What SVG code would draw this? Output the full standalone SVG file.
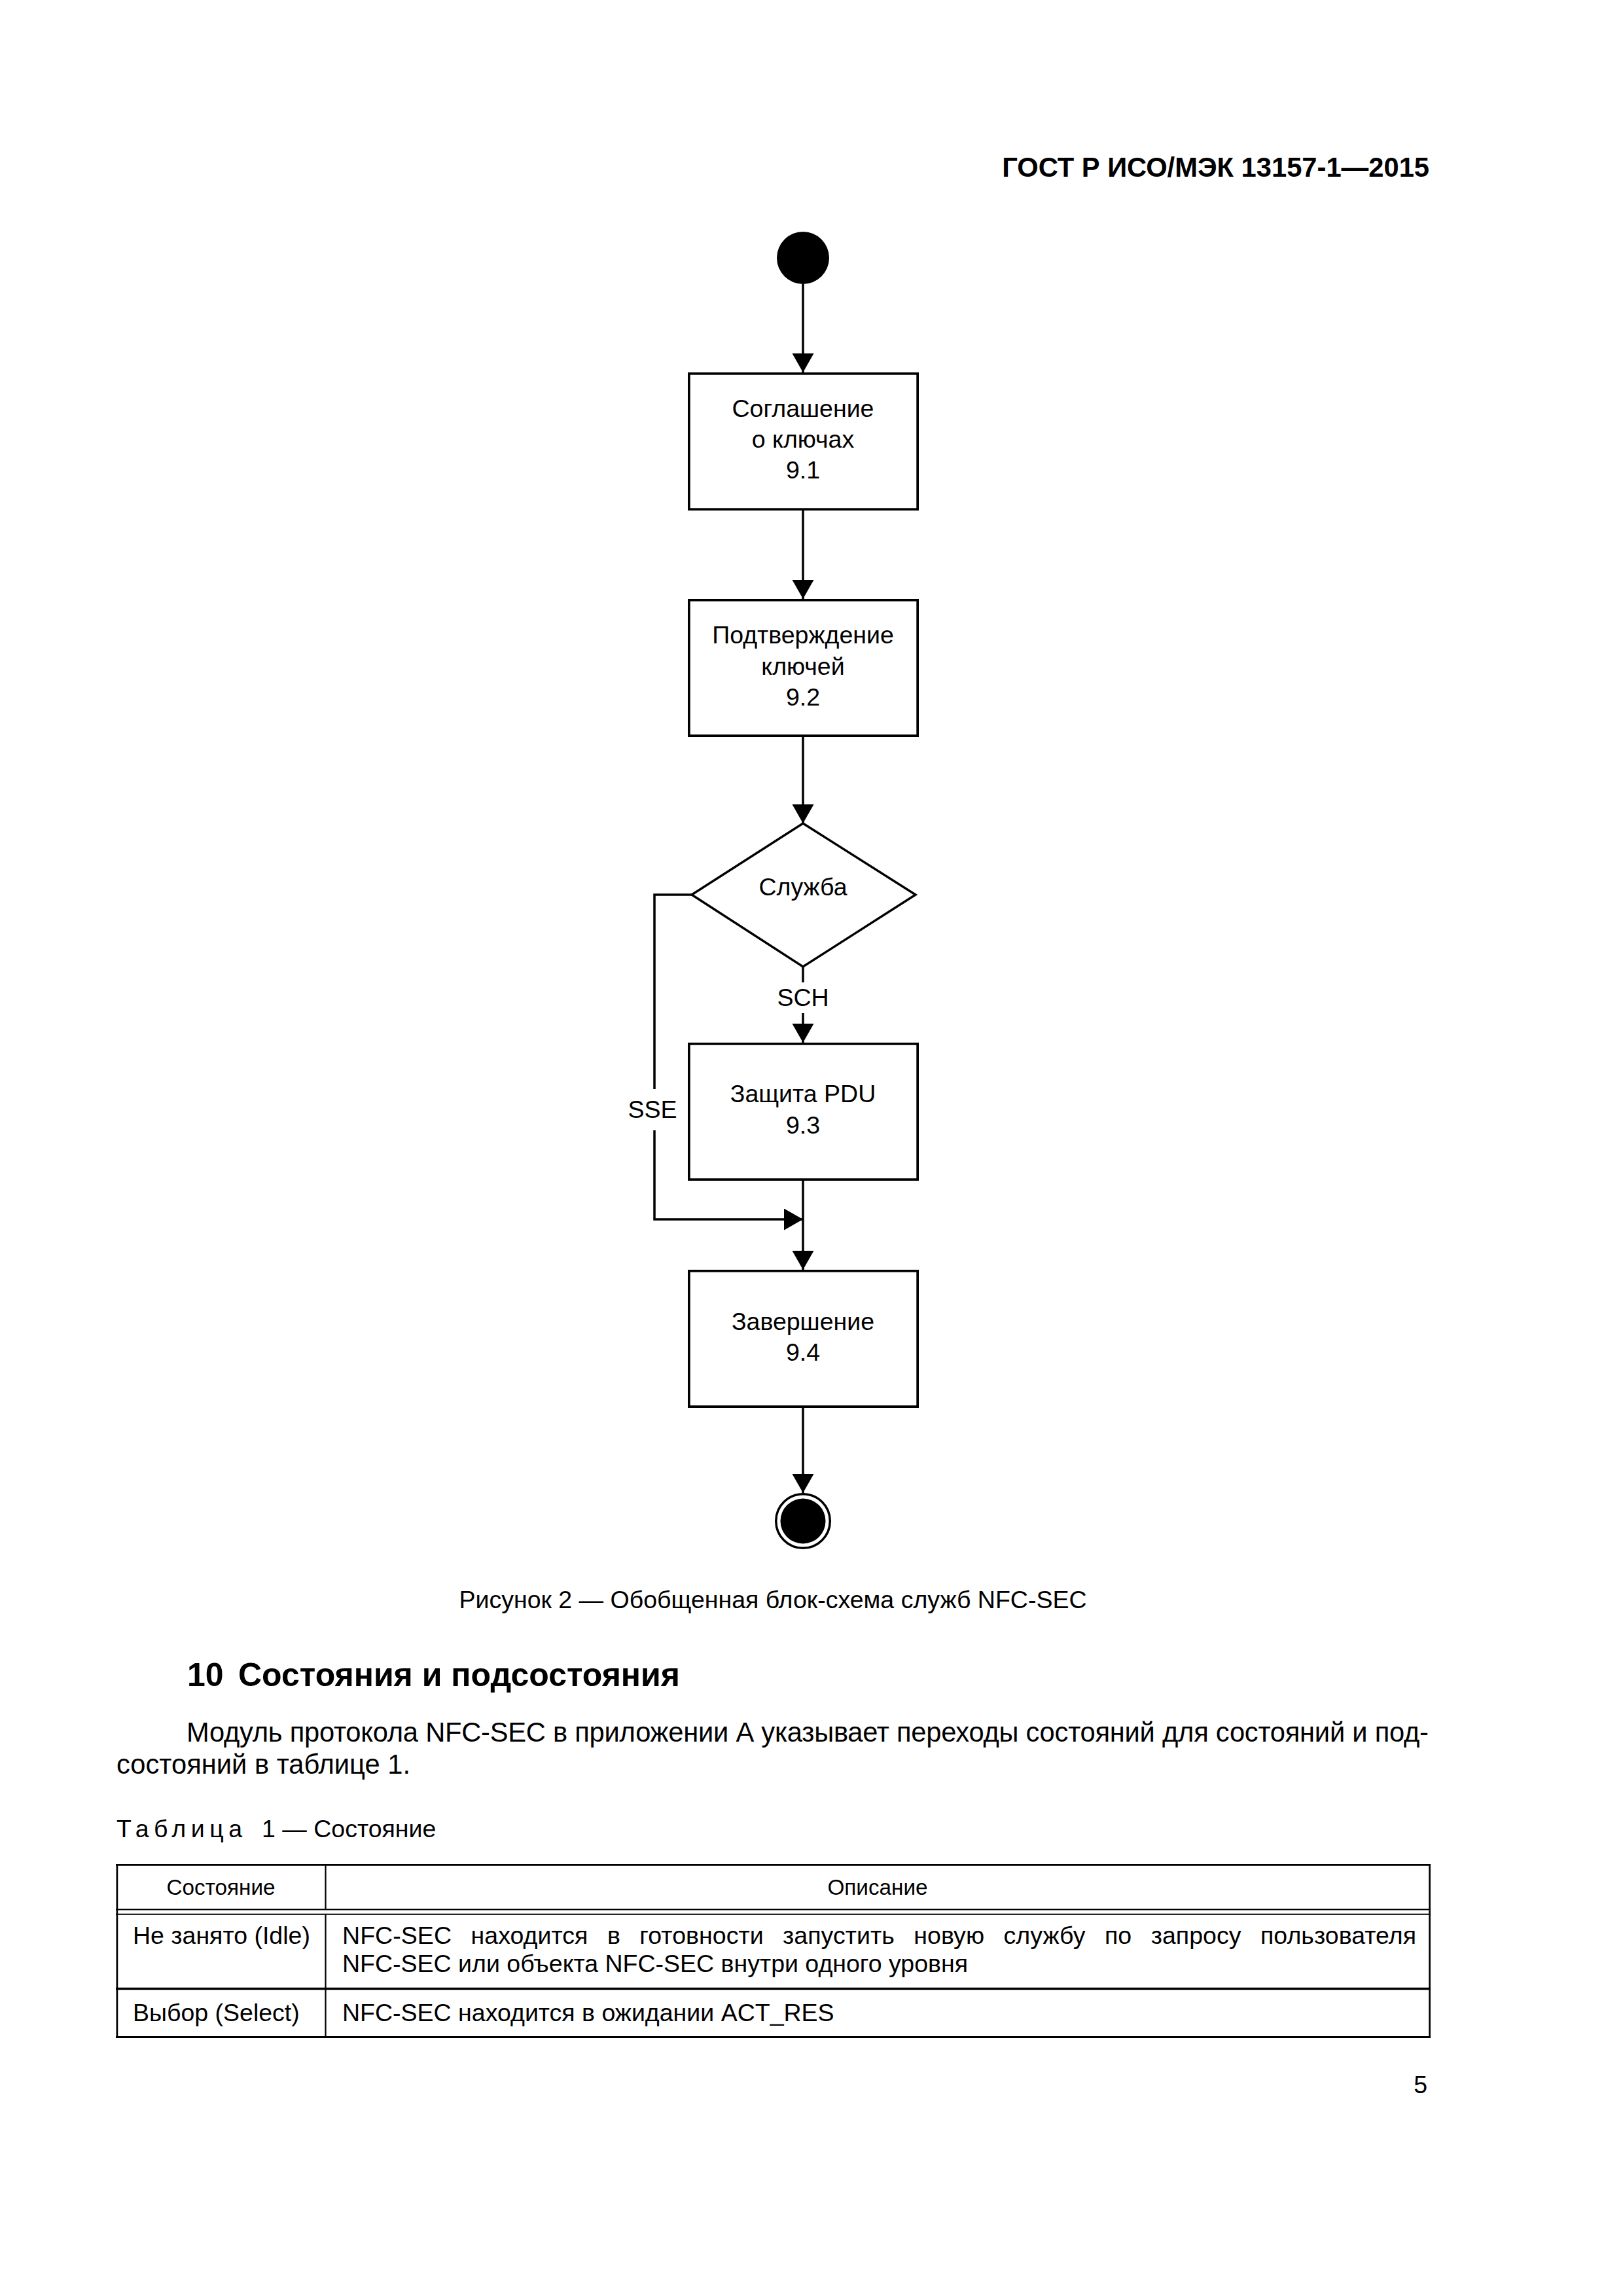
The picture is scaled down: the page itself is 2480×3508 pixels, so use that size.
<svg xmlns="http://www.w3.org/2000/svg" width="2480" height="3508" viewBox="0 0 2480 3508">
<style>
.t{font-family:"Liberation Sans",Arial,sans-serif;fill:#000}
.c{text-anchor:middle}
.f9{font-size:37.5px}
.f10{font-size:41.7px}
.f8{font-size:33.3px}
.b{font-weight:bold}
.box{fill:#fff;stroke:#000;stroke-width:3.7}
.conn{fill:none;stroke:#000;stroke-width:3.5}
.tl{stroke:#000;fill:none}
</style>
<defs>
<marker id="arr" markerUnits="userSpaceOnUse" markerWidth="30" markerHeight="34" refX="29" refY="16.5" orient="auto">
<path d="M0,0 L29,16.5 L0,33 Z" fill="#000"/>
</marker>
</defs>
<rect width="2480" height="3508" fill="#fff"/>

<text id="doc-header" class="t b f10" x="2184" y="270" text-anchor="end">ГОСТ Р ИСО/МЭК 13157-1—2015</text>

<g id="connectors">
<line class="conn" x1="1227" y1="434" x2="1227" y2="569" marker-end="url(#arr)"/>
<line class="conn" x1="1227" y1="780" x2="1227" y2="915" marker-end="url(#arr)"/>
<line class="conn" x1="1227" y1="1126" x2="1227" y2="1258" marker-end="url(#arr)"/>
<line class="conn" x1="1227" y1="1477" x2="1227" y2="1501"/>
<line class="conn" x1="1227" y1="1548" x2="1227" y2="1593" marker-end="url(#arr)"/>
<text class="t c f9" x="1227" y="1537">SCH</text>
<path class="conn" d="M1057,1367 H1000 V1664"/>
<path class="conn" d="M1000,1727 V1863 H1227" marker-end="url(#arr)"/>
<text class="t c f9" x="997" y="1708">SSE</text>
<line class="conn" x1="1227" y1="1804" x2="1227" y2="1940" marker-end="url(#arr)"/>
<line class="conn" x1="1227" y1="2151" x2="1227" y2="2281" marker-end="url(#arr)"/>
</g>

<g id="start">
<circle cx="1227" cy="394" r="40" fill="#000"/>
</g>

<g id="n91">
<rect class="box" x="1052.85" y="570.85" width="349.3" height="207.3"/>
<text class="t c f9" x="1227" y="637">Соглашение</text>
<text class="t c f9" x="1227" y="684">о ключах</text>
<text class="t c f9" x="1227" y="731">9.1</text>
</g>

<g id="n92">
<rect class="box" x="1052.85" y="916.85" width="349.3" height="207.3"/>
<text class="t c f9" x="1227" y="983">Подтверждение</text>
<text class="t c f9" x="1227" y="1031">ключей</text>
<text class="t c f9" x="1227" y="1078">9.2</text>
</g>

<g id="decision">
<polygon points="1227,1258 1399,1367 1227,1477 1057,1367" fill="#fff" stroke="#000" stroke-width="3.5"/>
<text class="t c f9" x="1227" y="1368">Служба</text>
</g>

<g id="n93">
<rect class="box" x="1052.85" y="1594.85" width="349.3" height="207.3"/>
<text class="t c f9" x="1227" y="1684">Защита PDU</text>
<text class="t c f9" x="1227" y="1732">9.3</text>
</g>

<g id="n94">
<rect class="box" x="1052.85" y="1941.85" width="349.3" height="207.3"/>
<text class="t c f9" x="1227" y="2032">Завершение</text>
<text class="t c f9" x="1227" y="2079">9.4</text>
</g>

<g id="end">
<circle cx="1227" cy="2324" r="41.3" fill="#fff" stroke="#000" stroke-width="3.5"/>
<circle cx="1227" cy="2324" r="34.5" fill="#000"/>
</g>

<text id="caption" class="t c f9" x="1181" y="2457">Рисунок 2 — Обобщенная блок-схема служб NFC-SEC</text>

<g id="section">
<text class="t b" font-size="50" x="286" y="2576">10</text>
<text class="t b" font-size="50" x="364" y="2576">Состояния и подсостояния</text>
<text class="t f10" x="285" y="2661" textLength="1898" lengthAdjust="spacing">Модуль протокола NFC-SEC в приложении А указывает переходы состояний для состояний и под-</text>
<text class="t f10" x="178" y="2710">состояний в таблице 1.</text>
</g>

<g id="table">
<text class="t f9" x="178" y="2807" letter-spacing="7.5">Таблица</text>
<text class="t f9" x="400" y="2807">1 — Состояние</text>
<line class="tl" x1="177" y1="2849.3" x2="2186" y2="2849.3" stroke-width="2.7"/>
<line class="tl" x1="178.9" y1="2848" x2="178.9" y2="3114" stroke-width="2.7"/>
<line class="tl" x1="2184.6" y1="2848" x2="2184.6" y2="3114" stroke-width="2.7"/>
<line class="tl" x1="497.5" y1="2848" x2="497.5" y2="2918" stroke-width="2.2"/>
<line class="tl" x1="497.5" y1="2924" x2="497.5" y2="3113" stroke-width="2.2"/>
<line class="tl" x1="177" y1="2917.5" x2="2186" y2="2917.5" stroke-width="2"/>
<line class="tl" x1="177" y1="2924.8" x2="2186" y2="2924.8" stroke-width="2"/>
<line class="tl" x1="177" y1="3038.5" x2="2186" y2="3038.5" stroke-width="3.3"/>
<line class="tl" x1="177" y1="3112.5" x2="2186" y2="3112.5" stroke-width="3"/>
<text class="t c f8" x="337.5" y="2895">Состояние</text>
<text class="t c f8" x="1341" y="2895">Описание</text>
<text class="t f9" x="203" y="2970">Не занято (Idle)</text>
<text class="t f9" x="523" y="2970" word-spacing="19" textLength="1641" lengthAdjust="spacing">NFC-SEC находится в готовности запустить новую службу по запросу пользователя</text>
<text class="t f9" x="523" y="3013">NFC-SEC или объекта NFC-SEC внутри одного уровня</text>
<text class="t f9" x="203" y="3088">Выбор (Select)</text>
<text class="t f9" x="523" y="3088">NFC-SEC находится в ожидании ACT_RES</text>
</g>

<text id="page-number" class="t f9" x="2181" y="3198" text-anchor="end">5</text>
</svg>
